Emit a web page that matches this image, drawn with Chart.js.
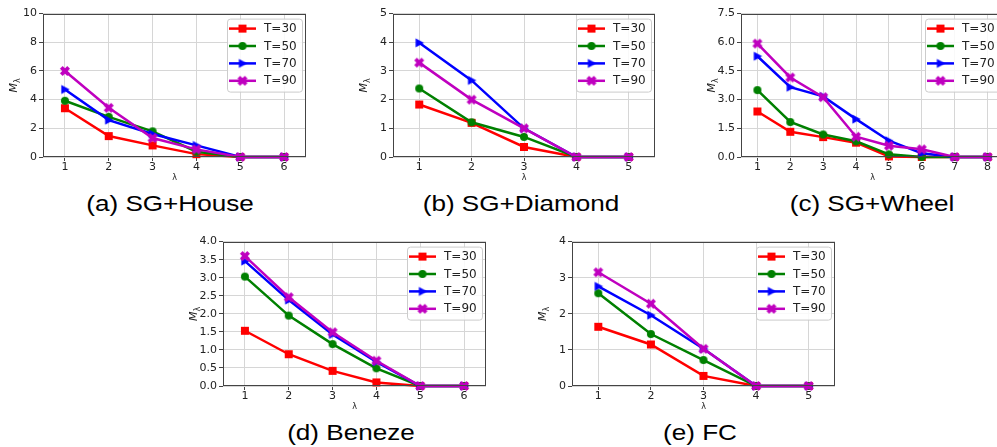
<!DOCTYPE html>
<html>
<head>
<meta charset="utf-8">
<script src="https://cdn.jsdelivr.net/npm/chart.js@4.4.0/dist/chart.umd.min.js"></script>
<style>
html, body { margin: 0; padding: 0; background: #fff; overflow: hidden; width: 997px; height: 447px; position: relative; }
canvas { position: absolute; }
.cap { position: absolute; font-family: "Liberation Sans", Arial, sans-serif; font-size: 22.5px; line-height: 1;
       white-space: nowrap; color: #000; transform: translateX(-50%) scaleX(1.16); }
</style>
</head>
<body>
<script>
// series names shared by all panels
const seriesLabels = ['T=30', 'T=50', 'T=70', 'T=90'];
const seriesColors = ['#ff0000', '#008000', '#0000ff', '#bf00bf'];

// (a) SG+House
const lambdaHouse = [1, 2, 3, 4, 5, 6];
const houseT30 = [3.4, 1.46, 0.81, 0.2, 0, 0];
const houseT50 = [3.92, 2.8, 1.79, 0.37, 0, 0];
const houseT70 = [4.71, 2.57, 1.6, 0.81, 0, 0];
const houseT90 = [6.0, 3.43, 1.32, 0.53, 0, 0];
const houseYTicks = [0, 2, 4, 6, 8, 10];

// (b) SG+Diamond
const lambdaDiamond = [1, 2, 3, 4, 5];
const diamondT30 = [1.83, 1.19, 0.35, 0, 0];
const diamondT50 = [2.39, 1.21, 0.7, 0, 0];
const diamondT70 = [3.98, 2.67, 1.0, 0, 0];
const diamondT90 = [3.29, 2.0, 1.0, 0, 0];
const diamondYTicks = [0, 1, 2, 3, 4, 5];

// (c) SG+Wheel
const lambdaWheel = [1, 2, 3, 4, 5, 6, 7, 8];
const wheelT30 = [2.38, 1.32, 1.04, 0.75, 0.03, 0, 0, 0];
const wheelT50 = [3.5, 1.83, 1.18, 0.82, 0.14, 0, 0, 0];
const wheelT70 = [5.27, 3.65, 3.17, 1.98, 0.85, 0.19, 0, 0];
const wheelT90 = [5.93, 4.16, 3.13, 1.06, 0.59, 0.4, 0, 0];
const wheelYTicks = [0, 1.5, 3, 4.5, 6, 7.5];

// (d) Beneze
const lambdaBeneze = [1, 2, 3, 4, 5, 6];
const benezeT30 = [1.53, 0.88, 0.42, 0.1, 0, 0];
const benezeT50 = [3.03, 1.95, 1.16, 0.49, 0, 0];
const benezeT70 = [3.46, 2.38, 1.43, 0.67, 0, 0];
const benezeT90 = [3.6, 2.46, 1.49, 0.7, 0, 0];
const benezeYTicks = [0, 0.5, 1, 1.5, 2, 2.5, 3, 3.5, 4];

// (e) FC
const lambdaFC = [1, 2, 3, 4, 5];
const fcT30 = [1.64, 1.15, 0.28, 0, 0];
const fcT50 = [2.57, 1.44, 0.72, 0, 0];
const fcT70 = [2.76, 1.96, 1.03, 0, 0];
const fcT90 = [3.15, 2.28, 1.03, 0, 0];
const fcYTicks = [0, 1, 2, 3, 4];

// plot rectangles [left, top, right, bottom] in page pixels
const panels = [
    { caption: '(a) SG+House', lambdas: lambdaHouse, series: [houseT30, houseT50, houseT70, houseT90], yTicks: houseYTicks, dec: 0, rect: [43, 13, 306, 157], capX: 170 },
    { caption: '(b) SG+Diamond', lambdas: lambdaDiamond, series: [diamondT30, diamondT50, diamondT70, diamondT90], yTicks: diamondYTicks, dec: 0, rect: [393, 13, 655, 157], capX: 521 },
    { caption: '(c) SG+Wheel', lambdas: lambdaWheel, series: [wheelT30, wheelT50, wheelT70, wheelT90], yTicks: wheelYTicks, dec: 1, rect: [741, 13, 1004, 157], capX: 872 },
    { caption: '(d) Beneze', lambdas: lambdaBeneze, series: [benezeT30, benezeT50, benezeT70, benezeT90], yTicks: benezeYTicks, dec: 1, rect: [223, 241, 486, 386], capX: 351 },
    { caption: '(e) FC', lambdas: lambdaFC, series: [fcT30, fcT50, fcT70, fcT90], yTicks: fcYTicks, dec: 0, rect: [572, 241, 835, 386], capX: 700 }
];

const PAD_L = 45, PAD_T = 8, PAD_R = 8, PAD_B = 30;
const tickFont = { family: '"DejaVu Sans", sans-serif', size: 11 };

function makeMarker(kind, color) {
    const s = 12;
    const c = document.createElement('canvas');
    c.width = s; c.height = s;
    const g = c.getContext('2d');
    g.fillStyle = color;
    g.translate(s / 2, s / 2);
    if (kind === 'square') {
        g.fillRect(-4, -4, 8, 8);
    } else if (kind === 'circle') {
        g.beginPath(); g.arc(0, 0, 4, 0, 2 * Math.PI); g.fill();
    } else if (kind === 'triangle') {
        g.beginPath(); g.moveTo(4.8, 0); g.lineTo(-3.6, -4.6); g.lineTo(-3.6, 4.6); g.closePath(); g.fill();
    } else {
        g.rotate(Math.PI / 4);
        g.fillRect(-5.2, -1.9, 10.4, 3.8);
        g.fillRect(-1.9, -5.2, 3.8, 10.4);
    }
    return c;
}
const markerKinds = ['square', 'circle', 'triangle', 'x'];
const markers = markerKinds.map((k, i) => makeMarker(k, seriesColors[i]));

// frame, inside legend and axis titles
const decor = {
    id: 'decor',
    afterDraw(chart) {
        const { ctx, chartArea: a } = chart;
        ctx.save();
        ctx.strokeStyle = '#444';
        ctx.lineWidth = 1;
        ctx.strokeRect(Math.round(a.left) + 0.5, Math.round(a.top) + 0.5, Math.round(a.right - a.left) - 1, Math.round(a.bottom - a.top) - 1);

        // legend
        const bw = 75, bh = 73;
        const bx = a.right - 4 - bw, by = a.top + 5;
        ctx.beginPath();
        ctx.roundRect(bx + 0.5, by + 0.5, bw, bh, 3);
        ctx.fillStyle = 'rgba(255,255,255,0.85)';
        ctx.fill();
        ctx.strokeStyle = '#cccccc';
        ctx.stroke();
        ctx.font = '12px "DejaVu Sans", sans-serif';
        ctx.textBaseline = 'middle';
        ctx.textAlign = 'left';
        seriesLabels.forEach((lab, i) => {
            const y = by + 10 + i * 17.4;
            ctx.strokeStyle = seriesColors[i];
            ctx.lineWidth = 2.5;
            ctx.beginPath();
            ctx.moveTo(bx + 2, y); ctx.lineTo(bx + 29, y);
            ctx.stroke();
            ctx.drawImage(markers[i], bx + 15.5 - 6, y - 6);
            ctx.fillStyle = '#222';
            ctx.fillText(lab, bx + 37, y + 0.5);
        });

        // x title
        ctx.fillStyle = '#222';
        ctx.font = '8px "DejaVu Sans", sans-serif';
        ctx.textAlign = 'center';
        ctx.fillText('λ', (a.left + a.right) / 2, a.bottom + 21);

        // y title M_λ
        ctx.translate(a.left - 30, (a.top + a.bottom) / 2);
        ctx.rotate(-Math.PI / 2);
        ctx.textBaseline = 'alphabetic';
        ctx.textAlign = 'left';
        ctx.font = 'italic 11px "DejaVu Sans", sans-serif';
        const wM = ctx.measureText('M').width;
        ctx.font = '8px "DejaVu Sans", sans-serif';
        const wL = ctx.measureText('λ').width;
        const x0 = -(wM + wL) / 2;
        ctx.font = 'italic 11px "DejaVu Sans", sans-serif';
        ctx.fillText('M', x0, 4);
        ctx.font = '8px "DejaVu Sans", sans-serif';
        ctx.fillText('λ', x0 + wM, 6.5);
        ctx.restore();
    }
};

panels.forEach(p => {
    const [L, T, R, B] = p.rect;
    const canvas = document.createElement('canvas');
    const w = R - L + PAD_L + PAD_R, h = B - T + PAD_T + PAD_B;
    canvas.width = w; canvas.height = h;
    canvas.style.left = (L - PAD_L) + 'px';
    canvas.style.top = (T - PAD_T) + 'px';
    canvas.style.width = w + 'px';
    canvas.style.height = h + 'px';
    document.body.appendChild(canvas);

    const cap = document.createElement('div');
    cap.className = 'cap';
    cap.textContent = p.caption;
    cap.style.left = p.capX + 'px';
    cap.style.top = (B + 36) + 'px';
    document.body.appendChild(cap);

    const n = p.lambdas.length;
    const ymax = p.yTicks[p.yTicks.length - 1];

    new Chart(canvas, {
        type: 'line',
        data: {
            datasets: p.series.map((vals, i) => ({
                label: seriesLabels[i],
                data: p.lambdas.map((x, k) => ({ x: x, y: vals[k] })),
                borderColor: seriesColors[i],
                backgroundColor: seriesColors[i],
                borderWidth: 2.5,
                pointStyle: markers[i],
                pointRadius: 4,
                tension: 0,
                clip: false,
                order: 3 - i
            }))
        },
        options: {
            responsive: false,
            animation: false,
            events: [],
            layout: { padding: { left: 0, top: PAD_T, right: PAD_R, bottom: 0 } },
            plugins: { legend: { display: false }, tooltip: { enabled: false } },
            scales: {
                x: {
                    type: 'linear',
                    min: 0.5,
                    max: n + 0.5,
                    afterBuildTicks: s => { s.ticks = p.lambdas.map(v => ({ value: v })); },
                    afterFit: s => { s.height = PAD_B; },
                    grid: { color: '#d6d6d6', tickColor: '#444', tickLength: 4 },
                    border: { display: false },
                    ticks: { font: tickFont, color: '#222', padding: 0, maxRotation: 0, autoSkip: false }
                },
                y: {
                    min: 0,
                    max: ymax,
                    afterBuildTicks: s => { s.ticks = p.yTicks.map(v => ({ value: v })); },
                    afterFit: s => { s.width = PAD_L; },
                    grid: { color: '#d6d6d6', tickColor: '#444', tickLength: 4 },
                    border: { display: false },
                    ticks: { font: tickFont, color: '#222', padding: 2, autoSkip: false,
                             callback: v => Number(v).toFixed(p.dec) }
                }
            }
        },
        plugins: [decor]
    });
});
</script>
</body>
</html>
